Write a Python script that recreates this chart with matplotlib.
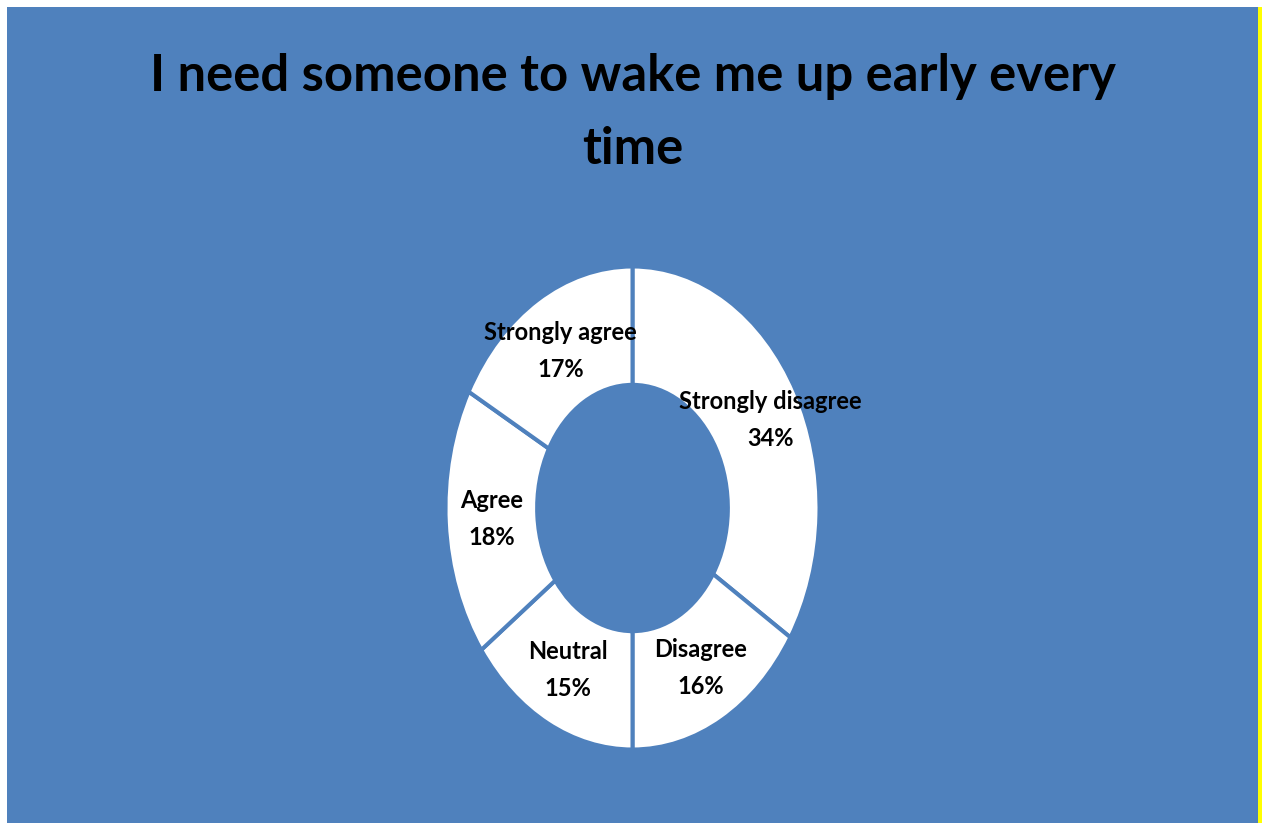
import matplotlib
matplotlib.use("Agg")
import matplotlib.pyplot as plt
from matplotlib.patches import Rectangle

# Survey responses
categories = ["Strongly disagree", "Disagree", "Neutral", "Agree", "Strongly agree"]
percentages = [34, 16, 15, 18, 17]
title_text = "I need someone to wake me up early every\ntime"

BLUE = "#4F81BD"
W, H = 1267, 823
DPI = 100

plt.rcParams["font.family"] = ["Lato", "DejaVu Sans"]

fig = plt.figure(figsize=(W / DPI, H / DPI), dpi=DPI, facecolor="white")


def fx(px):
    return px / W


def fy(py):
    return 1 - py / H


# Chart area background and right accent stripe
fig.patches.append(Rectangle((fx(7), 0), fx(1258) - fx(7), fy(7), transform=fig.transFigure,
                             facecolor=BLUE, edgecolor="none", zorder=-2))
fig.patches.append(Rectangle((fx(1258), 0), fx(4), fy(7), transform=fig.transFigure,
                             facecolor="#FFFF00", edgecolor="none", zorder=-2))

# Title
fig.text(fx(633), fy(113), title_text, ha="center", va="center", multialignment="center",
         fontsize=36.5, fontweight="bold", color="black", linespacing=1.66)

# Doughnut
cx, cy, rx, ry = 632.5, 508, 187, 241.5
ax = fig.add_axes([fx(cx - rx), fy(cy + ry), 2 * rx / W, 2 * ry / H])
ax.set_facecolor("none")
hole = 0.51
labels = [f"{c}\n{p}%" for c, p in zip(categories, percentages)]
wedges, texts = ax.pie(percentages, labels=labels, startangle=90, counterclock=False,
                       colors=["white"] * len(percentages), labeldistance=(1 + hole) / 2,
                       wedgeprops=dict(width=1 - hole, edgecolor=BLUE, linewidth=2.9),
                       textprops=dict(ha="center", va="center", multialignment="center",
                                      fontsize=17, fontweight="bold", color="black",
                                      linespacing=1.74))
# keep the long first label clear of the top separator
x0, y0 = texts[0].get_position()
texts[0].set_position((x0 + 0.075, y0))
ax.set_aspect("auto")
ax.set_xlim(-1, 1)
ax.set_ylim(-1, 1)
ax.axis("off")

fig.savefig("out.png", dpi=DPI, facecolor="white")
